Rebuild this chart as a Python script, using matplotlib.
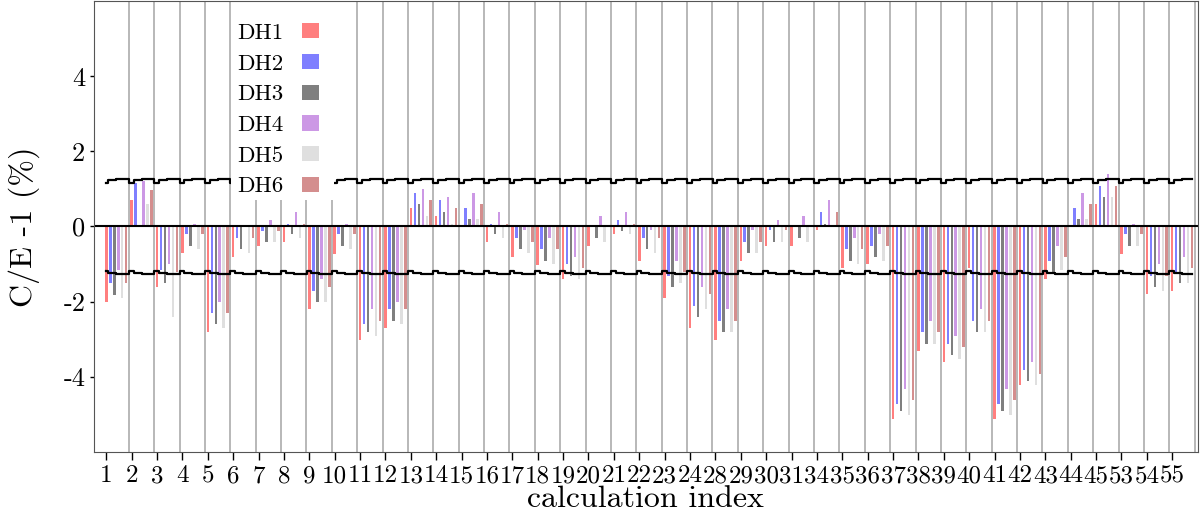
import numpy as np
import matplotlib
matplotlib.use("Agg")
import matplotlib.pyplot as plt
from matplotlib.patches import Patch, Rectangle

plt.rcParams['font.family'] = 'serif'
plt.rcParams['font.serif'] = ['cmr10']
plt.rcParams['mathtext.fontset'] = 'cm'
plt.rcParams['axes.formatter.use_mathtext'] = True

# calculation indices
labels = [1, 2, 3, 4, 5, 6, 7, 8, 9, 10, 11, 12, 13, 14, 15, 16, 17, 18, 19, 20,
          21, 22, 23, 24, 28, 29, 30, 31, 34, 35, 36, 37, 38, 39, 40, 41, 42, 43,
          44, 45, 53, 54, 55]

# C/E - 1 in percent, one list per data set
dh1 = [-2.02, 0.69, -1.62, -0.71, -2.82, -0.82, -0.52, -0.42, -2.21, -0.73,
       -3.02, -2.71, 0.48, 0.28, 0.0, -0.42, -0.82, -1.02, -1.41, -0.52,
       -0.21, -0.91, -1.91, -2.71, -3.02, -0.91, -0.52, -0.52, -0.10, -1.11,
       -1.01, -5.13, -3.32, -3.62, -1.11, -5.13, -4.22, -1.41, 0.0, 0.59,
       -0.73, -1.81, -1.72]
dh2 = [-1.51, 1.16, -1.17, -0.21, -2.31, -0.30, -0.12, 0.07, -1.72, -0.21,
       -2.61, -2.21, 0.89, 0.69, 0.48, 0.07, -0.31, -0.61, -1.01, 0.0,
       0.18, -0.31, -1.32, -2.12, -2.52, -0.42, -0.10, 0.0, 0.39, -0.61,
       -0.52, -4.73, -2.82, -3.13, -2.52, -4.73, -3.82, -0.92, 0.48, 1.08,
       -0.21, -1.32, -1.22]
dh3 = [-1.82, 0.0, -1.51, -0.52, -2.61, -0.61, -0.42, -0.21, -2.02, -0.52,
       -2.82, -2.52, 0.59, 0.39, 0.19, -0.21, -0.61, -0.91, -1.32, -0.31,
       -0.12, -0.61, -1.62, -2.42, -2.82, -0.71, -0.42, -0.31, 0.07, -0.91,
       -0.82, -4.92, -3.13, -3.42, -2.82, -4.92, -4.12, -1.22, 0.19, 0.79,
       -0.52, -1.62, -1.51]
dh4 = [-1.17, 1.20, -1.01, 0.07, -2.02, 0.0, 0.18, 0.38, -1.40, 0.07,
       -2.21, -2.02, 0.99, 0.78, 0.89, 0.39, -0.10, -0.31, -0.82, 0.28,
       0.39, -0.10, -0.91, -1.62, -2.21, -0.10, 0.18, 0.28, 0.69, -0.31,
       -0.21, -4.33, -2.52, -2.92, -2.21, -4.33, -3.62, -0.52, 0.89, 1.39,
       0.07, -1.01, -0.82]
dh5 = [-1.91, 0.59, -2.40, -0.60, -2.70, -0.71, -0.42, -0.31, -2.02, -0.60,
       -2.92, -2.61, 0.28, 0.07, 0.19, -0.31, -0.71, -1.01, -1.41, -0.42,
       -0.21, -0.71, -1.51, -2.21, -2.82, -0.71, -0.42, -0.42, 0.0, -1.01,
       -0.91, -5.02, -3.13, -3.53, -2.82, -5.02, -4.22, -1.17, 0.19, 0.78,
       -0.52, -1.72, -1.51]
dh6 = [-1.51, 0.98, -1.22, -0.21, -2.31, -0.30, -0.12, 0.07, -1.62, -0.21,
       -2.52, -2.21, 0.69, 0.48, 0.59, 0.07, -0.42, -0.61, -1.11, 0.0,
       0.07, -0.31, -1.22, -1.81, -2.52, -0.42, -0.10, 0.0, 0.39, -0.61,
       -0.52, -4.62, -2.82, -3.22, -2.52, -4.62, -3.93, -0.82, 0.59, 1.08,
       -0.21, -1.32, -1.11]

names = ['DH1', 'DH2', 'DH3', 'DH4', 'DH5', 'DH6']
colors = ['#ff7f7f', '#7f7fff', '#7f7f7f', '#cc98e5', '#dfdfdf', '#d48e8e']

# experimental uncertainty band (percent), one level per data set slot
band_up = [1.165, 1.225, 1.225, 1.253, 1.253, 1.253]
band_lo = [-1.20, -1.23, -1.23, -1.26, -1.26, -1.26]

series = [dh1, dh2, dh3, dh4, dh5, dh6]
n = len(labels)
x = np.arange(n)
w = 0.157

fig = plt.figure(figsize=(12, 5.14), dpi=100)
ax = fig.add_axes([0.078, 0.121, 0.920, 0.877])

for i in range(n):
    ax.axvline(x[i] + 0.885, color='#b8b8b8', lw=1.4, zorder=0)

for k, (vals, c, nm) in enumerate(zip(series, colors, names)):
    ax.bar(x + k * w, vals, width=0.1, color=c, label=nm, zorder=2)

ax.axhline(0, color='black', lw=1.5, zorder=3)

# step band through the bar centres
xs = np.concatenate([x[i] + np.arange(6) * w for i in range(n)])
ax.step(xs, np.tile(band_up, n), where='mid', color='black', lw=1.6, zorder=3)
ax.step(xs, np.tile(band_lo, n), where='mid', color='black', lw=1.6, zorder=3)

ax.set_xlim(-0.5, 43.0)
ax.set_ylim(-6, 6)
ax.set_xticks(x)
ax.set_xticklabels([str(l) for l in labels], fontsize=18)
ax.set_yticks([-4, -2, 0, 2, 4])
ax.set_yticklabels(['-4', '-2', '0', '2', '4'], fontsize=19)
ax.tick_params(axis='x', direction='out', length=6, width=1)
ax.tick_params(axis='y', direction='out', length=3, width=1, pad=3)
ax.set_xlabel('calculation index', fontsize=23, labelpad=-1)
ax.set_ylabel('C/E -1 (%)', fontsize=23)
ax.yaxis.set_label_coords(-0.049, 0.5)
for s in ax.spines.values():
    s.set_color('#555555')
    s.set_zorder(11)

# white box behind the legend
ax.add_patch(Rectangle((0.1245, 0.5586), 0.0933, 0.44, transform=ax.transAxes,
                       facecolor='white', edgecolor='none', zorder=9,
                       clip_on=True))
handles = [Patch(facecolor=c, edgecolor='none') for c in colors]
leg = ax.legend(handles, names, loc='upper left', bbox_to_anchor=(0.1299, 0.9510),
                borderaxespad=0, borderpad=0, frameon=False, markerfirst=False,
                fontsize=16.5, handlelength=0.75, handleheight=0.65,
                handletextpad=0.82, labelspacing=0.48)
leg.set_zorder(10)

fig.savefig('out.png', dpi=100)
